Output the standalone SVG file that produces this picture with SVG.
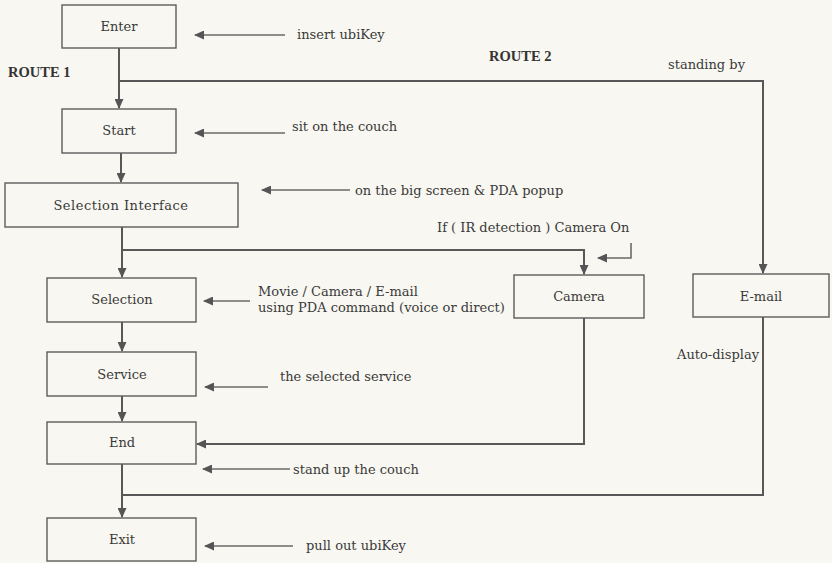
<svg xmlns="http://www.w3.org/2000/svg" width="832" height="563" viewBox="0 0 832 563">
<style>
.bg{fill:#f8f7f1}
.box{fill:#f8f7f1;stroke:#5c5c5c;stroke-width:1.4}
.lbl{font-family:"DejaVu Serif","Liberation Serif",serif;font-size:13px;fill:#3a3a3a}
.c{text-anchor:middle}
.rt{font-family:"Liberation Serif","DejaVu Serif",serif;font-size:14.5px;font-weight:bold;fill:#333}
.ln{fill:none;stroke:#585858;stroke-width:2}
.an{fill:none;stroke:#6a6a6a;stroke-width:1.6}
</style>
<defs>
<marker id="ah" markerUnits="userSpaceOnUse" markerWidth="10" markerHeight="9" refX="9" refY="4.5" orient="auto">
<path d="M0,0 L10,4.5 L0,9 z" fill="#555"/>
</marker>
</defs>
<rect class="bg" x="0" y="0" width="832" height="563"/>
<g id="connectors">
<path class="ln" d="M119 48 V108" marker-end="url(#ah)"/>
<path class="ln" d="M119 81 H763 V273" marker-end="url(#ah)"/>
<path class="ln" d="M121 153 V182" marker-end="url(#ah)"/>
<path class="ln" d="M122 227 V277" marker-end="url(#ah)"/>
<path class="ln" d="M122 250 H584 V274" marker-end="url(#ah)"/>
<path class="ln" d="M122 322 V351" marker-end="url(#ah)"/>
<path class="ln" d="M122 396 V421" marker-end="url(#ah)"/>
<path class="ln" d="M584 318 V444 H197" marker-end="url(#ah)"/>
<path class="ln" d="M122 464 V517" marker-end="url(#ah)"/>
<path class="ln" d="M763 317 V495 H122"/>
<path class="an" d="M285 35 H195" marker-end="url(#ah)"/>
<path class="an" d="M285 133 H195" marker-end="url(#ah)"/>
<path class="an" d="M350 190 H262" marker-end="url(#ah)"/>
<path class="an" d="M631 243 V258 H598" marker-end="url(#ah)"/>
<path class="an" d="M250 301 H204" marker-end="url(#ah)"/>
<path class="an" d="M268 387 H205" marker-end="url(#ah)"/>
<path class="an" d="M290 469 H203" marker-end="url(#ah)"/>
<path class="an" d="M293 546 H205" marker-end="url(#ah)"/>
</g>
<g id="enter"><rect class="box" x="62" y="5" width="114" height="43"/><text class="lbl c" x="119" y="31">Enter</text></g>
<g id="start"><rect class="box" x="62" y="109" width="114" height="44"/><text class="lbl c" x="119" y="135">Start</text></g>
<g id="selection-interface"><rect class="box" x="5" y="183" width="233" height="44"/><text class="lbl c" x="121" y="210" letter-spacing="0.5">Selection Interface</text></g>
<g id="selection"><rect class="box" x="47" y="278" width="149" height="44"/><text class="lbl c" x="122" y="304">Selection</text></g>
<g id="service"><rect class="box" x="47" y="352" width="149" height="44"/><text class="lbl c" x="122" y="379">Service</text></g>
<g id="end"><rect class="box" x="47" y="422" width="149" height="42"/><text class="lbl c" x="122" y="447">End</text></g>
<g id="exit"><rect class="box" x="47" y="518" width="149" height="43"/><text class="lbl c" x="122" y="544">Exit</text></g>
<g id="camera"><rect class="box" x="514" y="275" width="130" height="43"/><text class="lbl c" x="579" y="301">Camera</text></g>
<g id="email"><rect class="box" x="693" y="274" width="136" height="43"/><text class="lbl c" x="761" y="301">E-mail</text></g>
<g id="labels">
<text class="rt" x="8" y="77">ROUTE 1</text>
<text class="rt" x="489" y="61">ROUTE 2</text>
<text class="lbl" x="297" y="39">insert ubiKey</text>
<text class="lbl" x="668" y="69">standing by</text>
<text class="lbl" x="292" y="131">sit on the couch</text>
<text class="lbl" x="355" y="195">on the big screen &amp; PDA popup</text>
<text class="lbl" x="437" y="232">If ( IR detection )  Camera On</text>
<text class="lbl" x="258" y="296">Movie / Camera / E-mail</text>
<text class="lbl" x="258" y="312">using PDA command (voice or direct)</text>
<text class="lbl" x="280" y="381">the selected service</text>
<text class="lbl" x="293" y="474">stand up the couch</text>
<text class="lbl" x="306" y="550">pull out ubiKey</text>
<text class="lbl" x="759" y="359" text-anchor="end">Auto-display</text>
</g>
</svg>
